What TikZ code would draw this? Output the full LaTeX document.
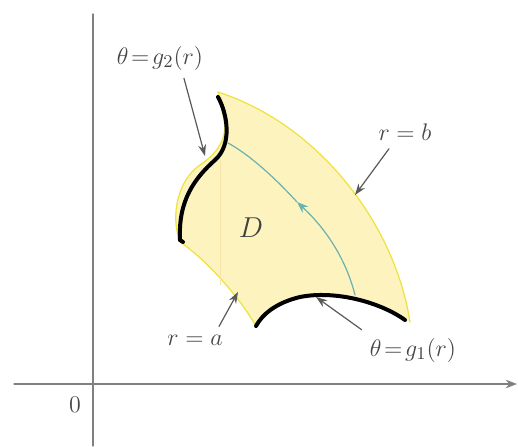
\documentclass[tikz,border=0pt]{standalone}
\usepackage{amsmath,amssymb}
\usepackage{tikz}
\usetikzlibrary{arrows.meta}
\usepackage{xcolor}
\definecolor{regfill}{RGB}{253,243,190}
\definecolor{regedge}{RGB}{238,226,60}
\definecolor{flowline}{RGB}{105,178,176}
\tikzset{lbl/.style={text=gray!55!black,inner sep=1pt},
  ptr/.style={gray!70!black,semithick,-{Stealth[length=2mm,width=1.4mm]}}}

\begin{document}
\begin{tikzpicture}[x=0.5pt,y=-0.5pt,>={Stealth[length=2mm]},font=\fontsize{13}{15}\selectfont,line cap=round]
\useasboundingbox (0,0) rectangle (518,446);
% axes
\draw[gray,semithick,->] (14,384) -- (517,384);
\draw[gray,semithick] (93,14) -- (93,446);
\node[lbl] (zero) at (75,405) {$0$};
% region D
\fill[regfill] (218,92) .. controls (320,125) and (395,225) .. (410,322)
  -- (405,320) .. controls (380,302) and (335,290) .. (300,297)
  .. controls (275,303) and (262,315) .. (256,326)
  .. controls (235,290) and (200,255) .. (180,242)
  .. controls (170,215) and (178,180) .. (200,165)
  .. controls (215,155) and (228,140) .. (224,120) -- cycle;
\draw[regedge,semithick] (218,92) .. controls (320,125) and (395,225) .. (410,322);
\draw[regedge,semithick] (256,326) .. controls (235,290) and (200,255) .. (180,242);
\draw[regedge,semithick] (180,242) .. controls (170,215) and (178,180) .. (200,165)
  .. controls (215,155) and (228,140) .. (224,120) -- (218,92);
\draw[regedge!60!orange!40,thin] (220,160) -- (220,285);
% flow arc
\coordinate (mid) at (297,202);
\draw[flowline,semithick,->] (355,295) .. controls (345,255) and (322,225) .. (mid);
\draw[flowline,semithick] (mid) .. controls (275,178) and (250,155) .. (228,143);
% black boundary curves
\draw[black,line width=2pt] (218,97) .. controls (228,115) and (232,145) .. (215,160)
  .. controls (195,178) and (178,200) .. (180,240) -- (183,242);
\draw[black,line width=2pt] (405,320) .. controls (380,302) and (335,290) .. (300,297)
  .. controls (275,303) and (262,315) .. (256,326);
\node[font=\fontsize{15}{17}\selectfont,text=black!75] (D) at (251,228) {$D$};
% labels
\coordinate (gtwoend) at (205,156);
\coordinate (bend) at (355,195);
\coordinate (aend) at (238,292);
\coordinate (goneend) at (316,297);
\node[lbl] (gtwo) at (160,58) {$\theta\!=\!g_2(r)$};
\node[lbl] (rb) at (405,132) {$r=b$};
\node[lbl] (ra) at (195,340) {$r=a$};
\node[lbl] (gone) at (413,350) {$\theta\!=\!g_1(r)$};
\draw[ptr] ([xshift=12pt,yshift=-3pt]gtwo.south) -- (gtwoend);
\draw[ptr] ([xshift=-8pt,yshift=-3pt]rb.south) -- (bend);
\draw[ptr] ([xshift=12pt,yshift=3pt]ra.north) -- (aend);
\draw[ptr] ([xshift=-3pt,yshift=3pt]gone.north west) -- (goneend);
\end{tikzpicture}
\end{document}
